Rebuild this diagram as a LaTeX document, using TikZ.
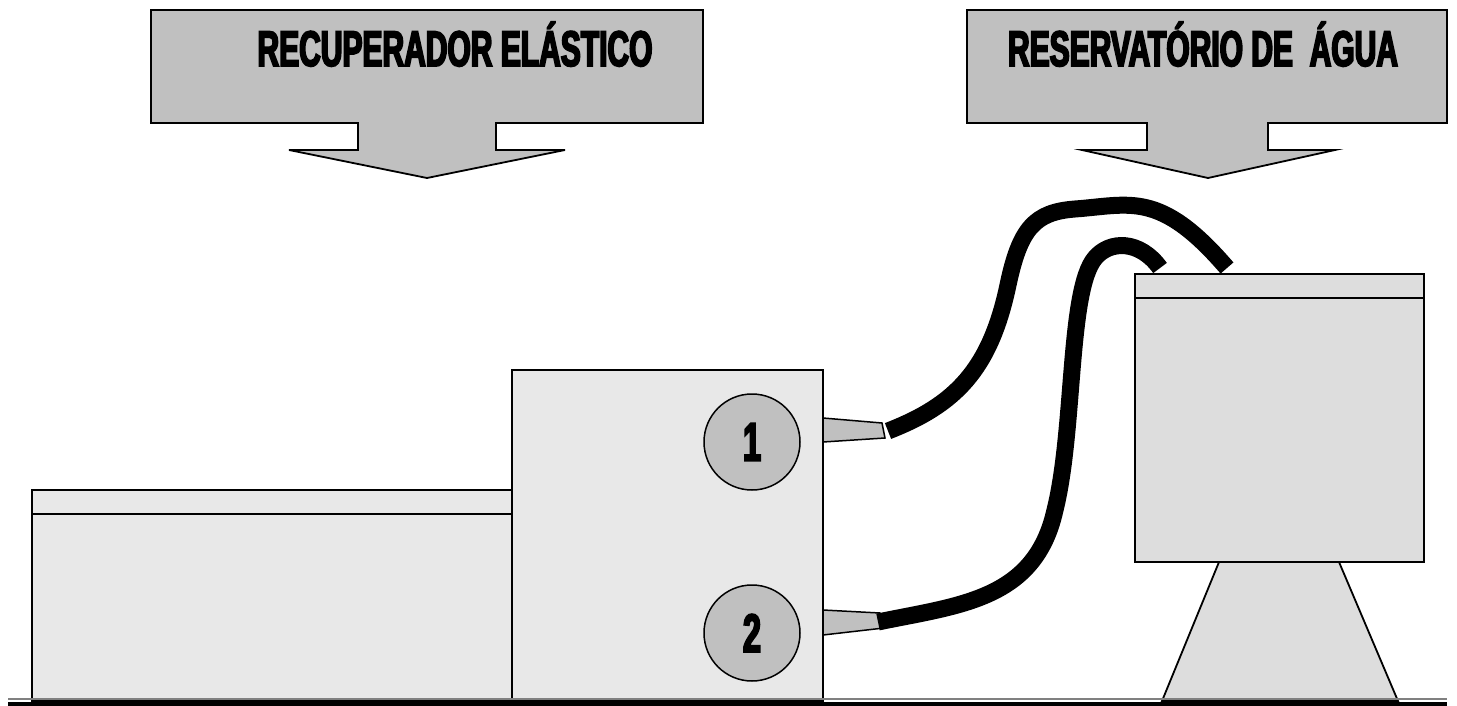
\documentclass[tikz,border=0pt]{standalone}
\usepackage{fontspec}
\usepackage{tikz}
\newfontfamily\heavyfont{Liberation Sans Bold}[FakeStretch=0.6,FakeBold=3.5]
\definecolor{callgray}{HTML}{C0C0C0}
\definecolor{boxgray}{HTML}{E8E8E8}
\definecolor{tankgray}{HTML}{DDDDDD}

\begin{document}
\begin{tikzpicture}[x=1pt,y=-1pt,line join=miter,
	box/.style={draw,fill=boxgray,line width=1.8},
	tank/.style={draw,fill=tankgray,line width=1.8},
	disc/.style={circle,draw,fill=callgray,line width=1.5,minimum size=96,inner sep=0,font=\heavyfont\fontsize{54}{54}\selectfont},
	hose/.style={line width=17,line cap=butt}]
	\useasboundingbox (0,0) rectangle (1457,706);
	% callouts: left, right, stem, head, tip x, text x
	\foreach \l/\r/\sl/\sr/\hl/\hr/\t/\tx/\name/\lab in {151/703/358/496/289/565/427/455/rec/{RECUPERADOR ELÁSTICO}, 967/1447/1147/1268/1082/1335/1208/1203/res/{RESERVATÓRIO DE\ \ ÁGUA}} {
		\draw[fill=callgray,line width=1.8] (\l,10) -- (\r,10) -- (\r,123) -- (\sr,123) -- (\sr,150) -- (\hr,150) -- (\t,178) -- (\hl,150) -- (\sl,150) -- (\sl,123) -- (\l,123) -- cycle;
		\node[anchor=base,inner sep=0,font=\heavyfont\fontsize{50}{50}\selectfont] (\name) at (\tx,66) {\lab};
	}
	% bench, valve block and tank
	\draw[box] (32,490) rectangle (512,701);
	\draw[line width=1.8] (32,514) -- (512,514);
	\draw[box] (512,370) rectangle (823,701);
	\draw[tank] (1219,562) -- (1339,562) -- (1398,701) -- (1162,701) -- cycle;
	\draw[tank] (1135,274) rectangle (1424,562);
	\draw[line width=1.8] (1135,298) -- (1424,298);
	% floor
	\draw[gray,line width=1.5] (8,699) -- (1447,699);
	\draw[line width=3.5] (8,704) -- (1447,704);
	% ports
	\node[disc] (p1) at (752,442) {1};
	\node[disc] (p2) at (752,633) {2};
	\draw[fill=callgray,line width=1.5] (823,418) -- (882,423) -- (885,438) -- (823,442) -- cycle;
	\draw[fill=callgray,line width=1.5] (823,610) -- (880,613) -- (884,628) -- (823,635) -- cycle;
	\coordinate (n1) at (888,431);
	\coordinate (n2) at (878,622);
	\coordinate (in1) at (1227,268);
	\coordinate (in2) at (1160,268);
	% hoses
	\draw[hose] (n1) .. controls (955,405) and (990,370) .. (1008,285) .. controls (1020,228) and (1035,212) .. (1075,209) .. controls (1130,205) and (1160,190) .. (in1);
	\draw[hose] (n2) .. controls (960,605) and (1035,600) .. (1055,510) .. controls (1075,430) and (1068,290) .. (1095,258) .. controls (1110,240) and (1140,240) .. (in2);
\end{tikzpicture}
\end{document}
